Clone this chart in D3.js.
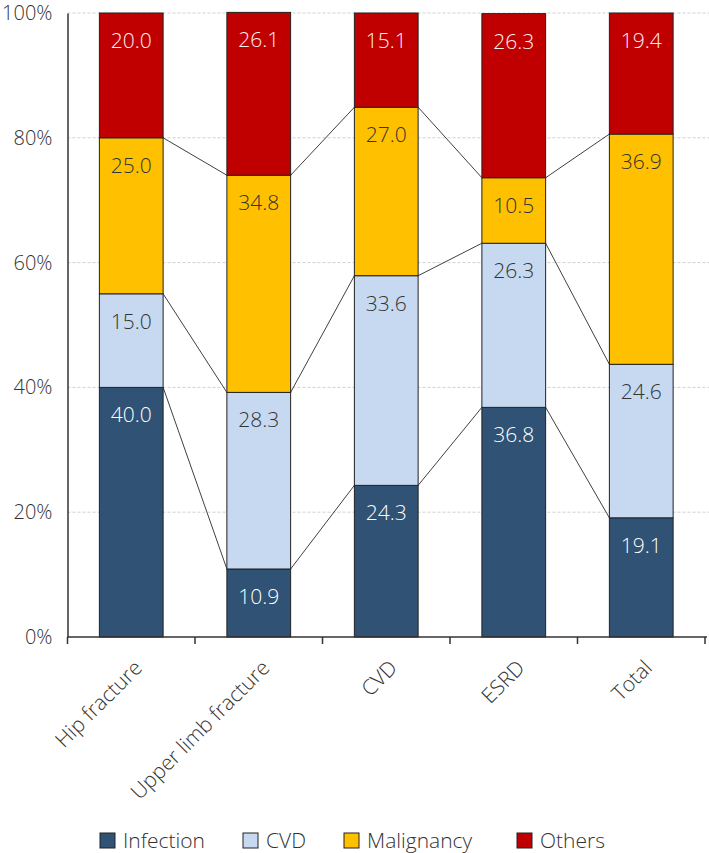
<!DOCTYPE html>
<html><head><meta charset="utf-8">
<script src="https://cdn.jsdelivr.net/npm/d3@7"></script>
<style>body{margin:0;background:#fff}svg{display:block}text{font-family:"Open Sans","Noto Sans",sans-serif;font-weight:300}</style>
</head><body><svg id="c" width="709" height="853"></svg>
<script>
const categories = ["Hip fracture","Upper limb fracture","CVD","ESRD","Total"];
const seriesNames = ["Infection","CVD","Malignancy","Others"];
const infection = [40.0,10.9,24.3,36.8,19.1];
const cvd = [15.0,28.3,33.6,26.3,24.6];
const malignancy = [25.0,34.8,27.0,10.5,36.9];
const others = [20.0,26.1,15.1,26.3,19.4];
const yTicks = [0,20,40,60,80,100];
const colors = ["#2F5275","#C6D9F0","#FFC000","#C00000"];
const textColors = ["#ffffff","#333333","#333333","#fff0f0"];

const series = [infection,cvd,malignancy,others];
const svg = d3.select("#c");
const m = {l:67.5,r:4,t:13,b:216};
const W = 709, H = 853;
const x = d3.scaleBand().domain(categories).range([m.l, W-m.r]).paddingInner(0.5).paddingOuter(0.25);
const y = d3.scaleLinear().domain([0,100]).range([H-m.b, m.t]);

// gridlines
svg.append("g").selectAll("line").data(yTicks.filter(d=>d>0)).join("line")
  .attr("x1",m.l).attr("x2",W).attr("y1",d=>y(d)).attr("y2",d=>y(d))
  .attr("stroke","#d0d0d0").attr("stroke-dasharray","3,2").attr("stroke-width",1);

const rows = categories.map((c,i)=>{const o={cat:c};seriesNames.forEach((s,j)=>o[s]=series[j][i]);return o;});
const stacked = d3.stack().keys(seriesNames)(rows);

// connecting lines (between stacked boundaries, not the 100% top)
const conn = svg.append("g");
stacked.slice(0,-1).forEach(layer=>{
  for(let i=0;i<categories.length-1;i++){
    conn.append("line")
      .attr("x1",x(categories[i])+x.bandwidth()).attr("y1",y(layer[i][1]))
      .attr("x2",x(categories[i+1])).attr("y2",y(layer[i+1][1]))
      .attr("stroke","#404040").attr("stroke-width",1);
  }
});

// bars
stacked.forEach((layer,j)=>{
  const g = svg.append("g");
  g.selectAll("rect").data(layer).join("rect")
    .attr("x",(d,i)=>x(categories[i])).attr("width",x.bandwidth())
    .attr("y",d=>y(d[1])).attr("height",d=>y(d[0])-y(d[1]))
    .attr("fill",colors[j]).attr("stroke","#222").attr("stroke-width",1);
  g.selectAll("text").data(layer).join("text")
    .attr("x",(d,i)=>x(categories[i])+x.bandwidth()/2)
    .attr("y",d=>y(d[1])+35)
    .attr("text-anchor","middle").attr("font-size",21)
    .attr("fill",textColors[j])
    .text((d,i)=>series[j][i].toFixed(1));
});

// y axis
const ya = svg.append("g").attr("transform",`translate(${m.l},0)`)
  .call(d3.axisLeft(y).tickValues(yTicks).tickFormat(d=>d+"%").tickSize(0).tickPadding(15));
ya.select(".domain").attr("stroke","#333").attr("stroke-width",1.5);
ya.selectAll("text").attr("font-size",20).attr("fill","#333").attr("font-family",'"Open Sans","Noto Sans",sans-serif');

// x axis
const xa = svg.append("g").attr("transform",`translate(0,${H-m.b})`);
xa.append("line").attr("x1",m.l).attr("x2",W-2).attr("stroke","#333").attr("stroke-width",1.5);
const step = x.step();
const bounds = d3.range(categories.length+1).map(i=>m.l+i*step);
xa.selectAll("line.t").data(bounds).join("line").attr("class","t")
  .attr("x1",d=>d).attr("x2",d=>d).attr("y1",0).attr("y2",7).attr("stroke","#333").attr("stroke-width",1.5);
xa.selectAll("text").data(categories).join("text")
  .attr("transform",c=>`translate(${x(c)+x.bandwidth()/2+7},${27}) rotate(-45)`)
  .attr("text-anchor","end").attr("font-size",21).attr("fill","#333")
  .attr("dy","0.35em").text(c=>c);

// legend
const leg = svg.append("g");
const lx = [100,243,344,517];
seriesNames.forEach((s,j)=>{
  leg.append("rect").attr("x",lx[j]).attr("y",833).attr("width",15).attr("height",15)
    .attr("fill",colors[j]).attr("stroke","#222").attr("stroke-width",1);
  leg.append("text").attr("x",lx[j]+23).attr("y",848).attr("font-size",21).attr("fill","#333").text(s);
});
</script></body></html>
